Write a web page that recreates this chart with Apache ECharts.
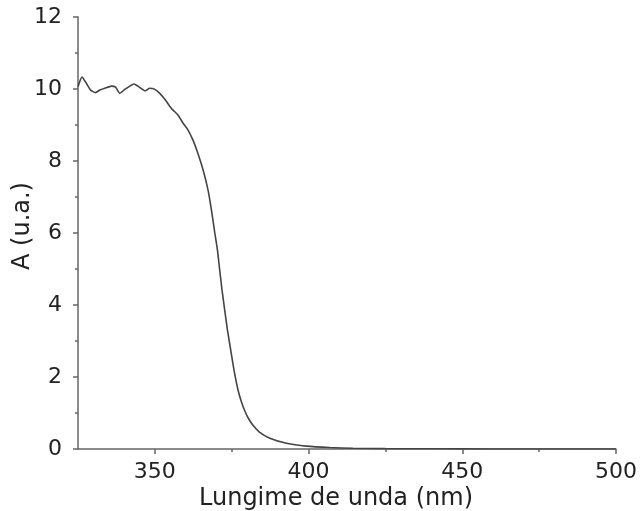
<!DOCTYPE html>
<html>
<head>
<meta charset="utf-8">
<script src="https://cdn.jsdelivr.net/npm/echarts@6/dist/echarts.min.js"></script>
<style>
html,body{margin:0;padding:0;background:#fff;}
#chart{width:642px;height:511px;}
</style>
</head>
<body>
<div id="chart"></div>
<script>
var wavelength = [325.0, 326.3, 327.7, 329.1, 330.7, 332.1, 333.7, 335.9, 337.2, 338.6, 340.2, 341.5, 343.2, 344.5, 346.9, 348.3, 350.0, 351.6, 353.3, 355.4, 357.5, 359.2, 360.8, 362.4, 364.0, 365.7, 367.3, 368.4, 369.5, 370.35, 371.1, 371.84, 372.72, 373.6, 374.67, 375.75, 377.05, 378.2, 379.3, 380.5, 382.0, 384.0, 387.4, 392.8, 399.3, 406.9, 414.4, 425.0, 440.0, 460.0, 480.0, 500.0];
var absorbance = [10.06, 10.33, 10.16, 9.97, 9.90, 9.97, 10.02, 10.08, 10.05, 9.88, 9.99, 10.06, 10.14, 10.08, 9.95, 10.02, 9.99, 9.88, 9.71, 9.46, 9.28, 9.05, 8.86, 8.58, 8.21, 7.75, 7.19, 6.64, 6.00, 5.53, 4.97, 4.42, 3.86, 3.31, 2.75, 2.19, 1.64, 1.30, 1.05, 0.84, 0.65, 0.47, 0.30, 0.16, 0.08, 0.04, 0.02, 0.01, 0.005, 0.002, 0.001, 0.0];
var xMajorTicks = [350, 400, 450, 500];
var xMinorTicks = [375, 425, 475];
var xTitle = 'Lungime de unda (nm)';
var yTitle = 'A (u.a.)';

var points = wavelength.map(function (w, i) { return [w, absorbance[i]]; });
var font = 'DejaVu Sans';
var textColor = '#222';
var axisColor = '#666';

var chart = echarts.init(document.getElementById('chart'), null, {renderer: 'canvas'});
chart.setOption({
  backgroundColor: '#fff',
  animation: false,
  grid: {left: 78, right: 26, top: 17, bottom: 62, containLabel: false, outerBoundsMode: 'none'},
  xAxis: [{
    type: 'value', min: 325, max: 500,
    axisLine: {show: true, lineStyle: {color: axisColor, width: 1.5}},
    axisTick: {show: true, length: 5, customValues: xMajorTicks, lineStyle: {color: axisColor, width: 1.5}},
    axisLabel: {customValues: xMajorTicks, margin: 12, fontFamily: font, fontSize: 22, color: textColor},
    splitLine: {show: false},
    name: xTitle, nameLocation: 'middle', nameGap: 38, nameMoveOverlap: false,
    nameTextStyle: {fontFamily: font, fontSize: 24, color: textColor, padding: [0, 22, 0, 0]}
  }, {
    type: 'value', min: 325, max: 500, position: 'bottom',
    axisLine: {show: false},
    axisTick: {show: true, length: 3, customValues: xMinorTicks, lineStyle: {color: axisColor, width: 1.5}},
    axisLabel: {show: false},
    splitLine: {show: false}
  }],
  yAxis: {
    type: 'value', min: 0, max: 12, interval: 2,
    axisLine: {show: true, lineStyle: {color: axisColor, width: 1.5}},
    axisTick: {show: true, length: 5, lineStyle: {color: axisColor, width: 1.5}},
    minorTick: {show: true, splitNumber: 2, length: 3, lineStyle: {color: axisColor, width: 1.5}},
    axisLabel: {margin: 16, fontFamily: font, fontSize: 22, color: textColor},
    splitLine: {show: false},
    name: yTitle, nameLocation: 'middle', nameGap: 43, nameMoveOverlap: false,
    nameTextStyle: {fontFamily: font, fontSize: 24, color: textColor, padding: [0, 0, 0, 14]}
  },
  series: [{
    type: 'line', xAxisIndex: 0, data: points, showSymbol: false, smooth: 0.2,
    lineStyle: {color: '#444', width: 1.6}
  }]
});
</script>
</body>
</html>
